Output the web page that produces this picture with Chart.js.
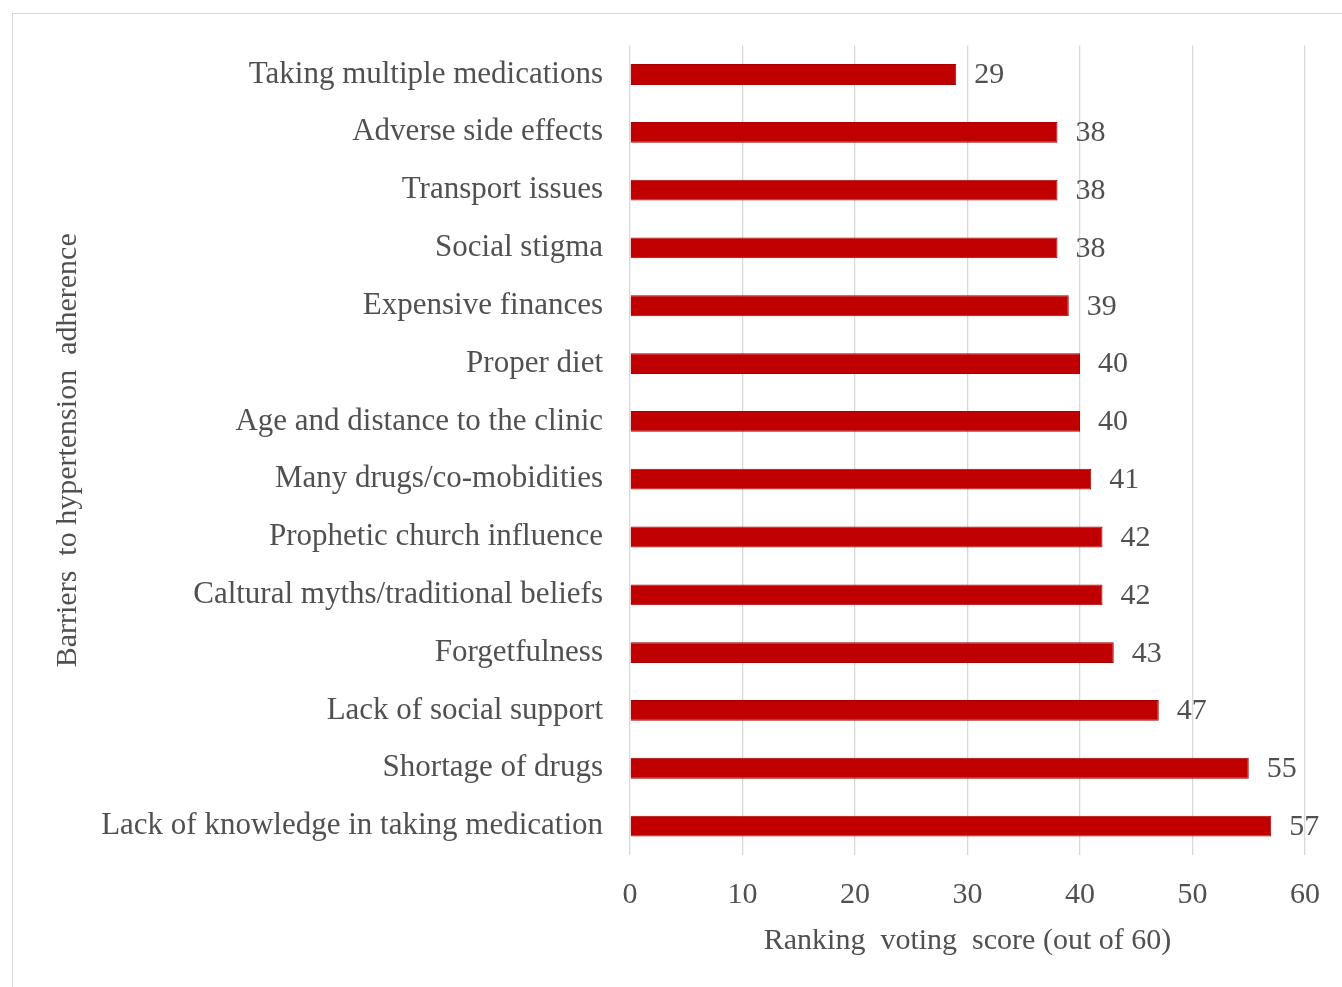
<!DOCTYPE html>
<html>
<head>
<meta charset="utf-8">
<script src="https://cdn.jsdelivr.net/npm/chart.js@4.4.1/dist/chart.umd.min.js"></script>
<style>
    html, body { margin: 0; padding: 0; background: #ffffff; overflow: hidden; }
    #frame { position: absolute; left: 12px; top: 13px; width: 2000px; height: 2000px; border: 1px solid #d9d9d9; }
    #wrap { position: absolute; left: 0; top: 0; width: 1342px; height: 987px; }
</style>
</head>
<body>
<div id="frame"></div>
<div id="wrap"><canvas id="barrierChart"></canvas></div>
<script>
// Barriers, top to bottom as in the picture
const barrierLabels = [
    'Taking multiple medications',
    'Adverse side effects',
    'Transport issues',
    'Social stigma',
    'Expensive finances',
    'Proper diet',
    'Age and distance to the clinic',
    'Many drugs/co-mobidities',
    'Prophetic church influence',
    'Caltural myths/traditional beliefs',
    'Forgetfulness',
    'Lack of social support',
    'Shortage of drugs',
    'Lack of knowledge in taking medication'
];
const votingScores = [29, 38, 38, 38, 39, 40, 40, 41, 42, 42, 43, 47, 55, 57];
const xTicks = [0, 10, 20, 30, 40, 50, 60];

const serif = "'Liberation Serif', 'Times New Roman', serif";
const textColor = '#505050';

// Draw the value next to each bar end
const valueLabels = {
    id: 'valueLabels',
    afterDatasetsDraw(chart) {
        const ctx = chart.ctx;
        const meta = chart.getDatasetMeta(0);
        ctx.save();
        ctx.font = '30px ' + serif;
        ctx.fillStyle = textColor;
        ctx.textAlign = 'left';
        ctx.textBaseline = 'middle';
        meta.data.forEach((bar, i) => {
            ctx.fillText(String(votingScores[i]), bar.x + 18, bar.y + 1);
        });
        ctx.restore();
    }
};

const ctx = document.getElementById('barrierChart').getContext('2d');
const barrierChart = new Chart(ctx, {
    type: 'bar',
    data: {
        labels: barrierLabels,
        datasets: [{
            data: votingScores,
            backgroundColor: '#C00000',
            borderColor: '#A80000',
            borderWidth: 1,
            barPercentage: 0.36,
            categoryPercentage: 1.0
        }]
    },
    options: {
        indexAxis: 'y',
        responsive: true,
        maintainAspectRatio: false,
        animation: false,
        layout: { padding: { left: 46, right: 36, top: 45, bottom: 26 } },
        plugins: { legend: { display: false }, tooltip: { enabled: false } },
        scales: {
            x: {
                min: 0,
                max: 60,
                afterBuildTicks(scale) { scale.ticks = xTicks.map(v => ({ value: v })); },
                afterFit(scale) { scale.height = 987 - 855 - 26; },
                grid: { color: '#d9d9d9', lineWidth: 1.3, drawTicks: false },
                border: { display: false },
                ticks: { color: textColor, font: { family: serif, size: 30 }, padding: 22 },
                title: {
                    display: true,
                    text: 'Ranking  voting  score (out of 60)',
                    color: textColor,
                    font: { family: serif, size: 30 },
                    padding: { top: 0, bottom: 2 }
                }
            },
            y: {
                afterFit(scale) { scale.width = 630 - 46; },
                grid: { display: false, drawTicks: false },
                border: { display: false },
                ticks: { color: textColor, font: { family: serif, size: 31 }, padding: 27 },
                title: {
                    display: true,
                    text: 'Barriers  to hypertension  adherence',
                    color: textColor,
                    font: { family: serif, size: 30 },
                    padding: { top: 4, bottom: 0 }
                }
            }
        }
    },
    plugins: [valueLabels]
});
</script>
</body>
</html>
